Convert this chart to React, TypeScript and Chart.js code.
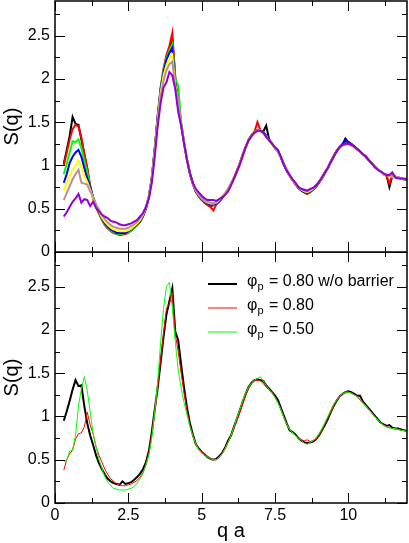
import React, { useEffect, useRef } from 'react';
import { Chart, registerables } from 'chart.js';

Chart.register(...registerables);

// q grid (q a)
const Q = [
  0.3, 0.4, 0.5, 0.6, 0.7, 0.8, 0.9, 1.0, 1.1, 1.2,
  1.3, 1.4, 1.5, 1.6, 1.7, 1.8, 1.9, 2.0, 2.1, 2.2,
  2.3, 2.4, 2.5, 2.6, 2.7, 2.8, 2.9, 3.0, 3.1, 3.2,
  3.3, 3.4, 3.5, 3.6, 3.7, 3.8, 3.9, 4.0, 4.1, 4.2,
  4.3, 4.4, 4.5, 4.6, 4.7, 4.8, 4.9, 5.0, 5.1, 5.2,
  5.3, 5.4, 5.5, 5.6, 5.7, 5.8, 5.9, 6.0, 6.1, 6.2,
  6.3, 6.4, 6.5, 6.6, 6.7, 6.8, 6.9, 7.0, 7.1, 7.2,
  7.3, 7.4, 7.5, 7.6, 7.7, 7.8, 7.9, 8.0, 8.1, 8.2,
  8.3, 8.4, 8.5, 8.6, 8.7, 8.8, 8.9, 9.0, 9.1, 9.2,
  9.3, 9.4, 9.5, 9.6, 9.7, 9.8, 9.9, 10.0, 10.1, 10.2,
  10.3, 10.4, 10.5, 10.6, 10.7, 10.8, 10.9, 11.0, 11.1, 11.2,
  11.3, 11.4, 11.5, 11.6, 11.7, 11.8, 11.9, 12.0,
];

// ---- top panel ----
const TOP_BLACK = [
  1.02, 1.18, 1.34, 1.56, 1.48, 1.47, 1.30, 1.12, 0.96, 0.75,
  0.62, 0.52, 0.45, 0.38, 0.32, 0.28, 0.25, 0.22, 0.21, 0.20,
  0.21, 0.21, 0.23, 0.25, 0.28, 0.31, 0.35, 0.41, 0.50, 0.63,
  0.85, 1.18, 1.55, 1.88, 2.08, 2.25, 2.35, 2.46, 2.02, 1.70,
  1.48, 1.27, 1.07, 0.91, 0.79, 0.70, 0.65, 0.61, 0.57, 0.55,
  0.53, 0.54, 0.56, 0.59, 0.63, 0.67, 0.72, 0.78, 0.85, 0.93,
  1.02, 1.12, 1.21, 1.29, 1.35, 1.38, 1.41, 1.40, 1.39, 1.46,
  1.30, 1.25, 1.20, 1.16, 1.09, 1.01, 0.94, 0.88, 0.83, 0.78,
  0.74, 0.71, 0.69, 0.68, 0.70, 0.72, 0.76, 0.80, 0.85, 0.91,
  0.97, 1.04, 1.11, 1.17, 1.21, 1.24, 1.31, 1.27, 1.25, 1.22,
  1.19, 1.16, 1.13, 1.10, 1.06, 1.02, 0.99, 0.96, 0.93, 0.90,
  0.89, 0.75, 0.88, 0.87, 0.86, 0.85, 0.84, 0.83,
];
const TOP_RED = [
  1.00, 1.15, 1.30, 1.42, 1.47, 1.45, 1.32, 1.14, 0.97, 0.76,
  0.62, 0.52, 0.44, 0.37, 0.31, 0.27, 0.24, 0.22, 0.21, 0.20,
  0.20, 0.21, 0.22, 0.25, 0.28, 0.31, 0.36, 0.42, 0.51, 0.64,
  0.86, 1.20, 1.58, 1.90, 2.12, 2.28, 2.38, 2.53, 2.00, 1.68,
  1.47, 1.26, 1.06, 0.90, 0.78, 0.70, 0.64, 0.60, 0.57, 0.54,
  0.52, 0.48, 0.55, 0.58, 0.62, 0.67, 0.72, 0.79, 0.86, 0.94,
  1.03, 1.13, 1.22, 1.30, 1.35, 1.39, 1.50, 1.41, 1.38, 1.34,
  1.29, 1.25, 1.21, 1.17, 1.10, 1.02, 0.95, 0.88, 0.83, 0.78,
  0.74, 0.71, 0.69, 0.67, 0.69, 0.72, 0.75, 0.80, 0.85, 0.91,
  0.97, 1.04, 1.11, 1.17, 1.21, 1.24, 1.26, 1.27, 1.25, 1.22,
  1.19, 1.16, 1.13, 1.10, 1.06, 1.03, 0.99, 0.96, 0.93, 0.90,
  0.88, 0.79, 0.89, 0.87, 0.86, 0.85, 0.84, 0.83,
];
const TOP_GREEN = [
  0.90, 1.02, 1.15, 1.28, 1.27, 1.30, 1.20, 1.05, 0.92, 0.75,
  0.62, 0.53, 0.45, 0.38, 0.32, 0.28, 0.25, 0.23, 0.21, 0.21,
  0.21, 0.22, 0.23, 0.25, 0.28, 0.32, 0.36, 0.42, 0.51, 0.64,
  0.86, 1.19, 1.56, 1.89, 2.10, 2.24, 2.33, 2.40, 2.00, 1.92,
  1.50, 1.26, 1.07, 0.91, 0.79, 0.71, 0.65, 0.61, 0.58, 0.56,
  0.55, 0.54, 0.56, 0.59, 0.63, 0.68, 0.73, 0.79, 0.86, 0.93,
  1.02, 1.12, 1.21, 1.29, 1.35, 1.39, 1.41, 1.41, 1.38, 1.34,
  1.30, 1.25, 1.20, 1.16, 1.10, 1.02, 0.94, 0.88, 0.83, 0.79,
  0.74, 0.71, 0.69, 0.68, 0.70, 0.73, 0.76, 0.81, 0.86, 0.92,
  0.97, 1.04, 1.10, 1.16, 1.21, 1.23, 1.25, 1.26, 1.24, 1.22,
  1.19, 1.16, 1.13, 1.10, 1.06, 1.02, 0.99, 0.96, 0.93, 0.90,
  0.89, 0.88, 0.88, 0.87, 0.86, 0.85, 0.84, 0.84,
];
const TOP_BLUE = [
  0.80, 0.90, 1.03, 1.10, 1.15, 1.18, 1.10, 0.97, 0.85, 0.76,
  0.63, 0.54, 0.46, 0.39, 0.33, 0.29, 0.26, 0.24, 0.22, 0.22,
  0.22, 0.22, 0.24, 0.26, 0.29, 0.32, 0.36, 0.42, 0.51, 0.64,
  0.85, 1.18, 1.55, 1.87, 2.08, 2.22, 2.30, 2.36, 1.95, 1.75,
  1.48, 1.26, 1.07, 0.91, 0.79, 0.70, 0.65, 0.61, 0.58, 0.56,
  0.55, 0.55, 0.56, 0.59, 0.63, 0.67, 0.72, 0.78, 0.85, 0.93,
  1.02, 1.12, 1.21, 1.29, 1.34, 1.38, 1.40, 1.40, 1.38, 1.35,
  1.30, 1.25, 1.20, 1.17, 1.10, 1.01, 0.94, 0.88, 0.83, 0.79,
  0.74, 0.71, 0.69, 0.68, 0.70, 0.73, 0.76, 0.81, 0.86, 0.92,
  0.97, 1.04, 1.10, 1.16, 1.21, 1.25, 1.29, 1.27, 1.24, 1.22,
  1.19, 1.16, 1.13, 1.10, 1.06, 1.02, 0.99, 0.96, 0.93, 0.90,
  0.89, 0.88, 0.88, 0.87, 0.86, 0.85, 0.84, 0.84,
];
const TOP_YELLOW = [
  0.71, 0.80, 0.88, 0.95, 1.00, 1.06, 0.98, 0.88, 0.81, 0.72,
  0.62, 0.54, 0.47, 0.40, 0.35, 0.31, 0.28, 0.26, 0.25, 0.24,
  0.24, 0.24, 0.25, 0.27, 0.30, 0.33, 0.37, 0.43, 0.52, 0.64,
  0.84, 1.16, 1.52, 1.84, 2.04, 2.16, 2.24, 2.28, 1.93, 1.74,
  1.48, 1.26, 1.07, 0.91, 0.79, 0.71, 0.66, 0.62, 0.59, 0.57,
  0.56, 0.56, 0.57, 0.60, 0.64, 0.68, 0.73, 0.79, 0.86, 0.93,
  1.02, 1.12, 1.21, 1.29, 1.34, 1.38, 1.40, 1.40, 1.37, 1.34,
  1.28, 1.24, 1.21, 1.16, 1.10, 1.02, 0.95, 0.88, 0.83, 0.79,
  0.75, 0.72, 0.70, 0.69, 0.71, 0.73, 0.77, 0.81, 0.86, 0.92,
  0.97, 1.04, 1.10, 1.16, 1.20, 1.23, 1.24, 1.24, 1.23, 1.21,
  1.18, 1.16, 1.13, 1.09, 1.06, 1.02, 0.99, 0.96, 0.93, 0.90,
  0.89, 0.88, 0.87, 0.87, 0.86, 0.85, 0.84, 0.84,
];
const TOP_BROWN = [
  0.60, 0.68, 0.76, 0.84, 0.90, 0.95, 0.80, 0.79, 0.78, 0.70,
  0.64, 0.55, 0.49, 0.43, 0.38, 0.34, 0.31, 0.29, 0.28, 0.27,
  0.27, 0.27, 0.28, 0.30, 0.32, 0.35, 0.39, 0.44, 0.52, 0.63,
  0.83, 1.14, 1.50, 1.80, 1.98, 2.10, 2.17, 2.20, 1.90, 1.76,
  1.48, 1.26, 1.07, 0.91, 0.79, 0.71, 0.66, 0.62, 0.59, 0.58,
  0.57, 0.56, 0.58, 0.61, 0.64, 0.68, 0.73, 0.79, 0.86, 0.93,
  1.02, 1.12, 1.21, 1.29, 1.34, 1.38, 1.40, 1.40, 1.37, 1.33,
  1.29, 1.25, 1.20, 1.16, 1.10, 1.02, 0.95, 0.89, 0.83, 0.79,
  0.75, 0.72, 0.71, 0.70, 0.72, 0.74, 0.77, 0.81, 0.86, 0.92,
  0.97, 1.04, 1.10, 1.16, 1.20, 1.23, 1.24, 1.25, 1.23, 1.21,
  1.18, 1.16, 1.13, 1.09, 1.06, 1.02, 0.99, 0.96, 0.93, 0.90,
  0.89, 0.88, 0.88, 0.87, 0.86, 0.85, 0.84, 0.84,
];
const TOP_VIOLET = [
  0.41, 0.46, 0.52, 0.58, 0.62, 0.67, 0.57, 0.61, 0.60, 0.53,
  0.58, 0.51, 0.47, 0.43, 0.41, 0.39, 0.36, 0.35, 0.34, 0.32,
  0.31, 0.31, 0.32, 0.33, 0.35, 0.37, 0.41, 0.45, 0.52, 0.62,
  0.80, 1.10, 1.45, 1.72, 1.90, 1.96, 2.08, 2.04, 1.88, 1.62,
  1.46, 1.25, 1.06, 0.91, 0.80, 0.73, 0.69, 0.65, 0.62, 0.60,
  0.60, 0.60, 0.59, 0.61, 0.63, 0.66, 0.70, 0.77, 0.85, 0.93,
  1.01, 1.11, 1.21, 1.29, 1.34, 1.38, 1.40, 1.40, 1.38, 1.33,
  1.29, 1.25, 1.21, 1.18, 1.10, 1.01, 0.94, 0.89, 0.84, 0.80,
  0.75, 0.73, 0.72, 0.71, 0.73, 0.74, 0.77, 0.81, 0.86, 0.92,
  0.97, 1.04, 1.10, 1.16, 1.21, 1.24, 1.25, 1.25, 1.24, 1.22,
  1.19, 1.16, 1.13, 1.10, 1.06, 1.02, 0.98, 0.95, 0.93, 0.91,
  0.89, 0.89, 0.92, 0.86, 0.85, 0.85, 0.85, 0.84,
];

// ---- bottom panel ----
const BOT_BLACK = [
  0.95, 1.06, 1.18, 1.31, 1.42, 1.35, 1.36, 1.12, 0.92, 0.78,
  0.67, 0.55, 0.46, 0.39, 0.33, 0.28, 0.25, 0.23, 0.22, 0.21,
  0.25, 0.22, 0.23, 0.24, 0.27, 0.30, 0.34, 0.39, 0.47, 0.60,
  0.82, 1.08, 1.33, 1.62, 1.92, 2.18, 2.33, 2.48, 1.98, 1.88,
  1.60, 1.33, 1.10, 0.92, 0.79, 0.68, 0.63, 0.59, 0.56, 0.53,
  0.51, 0.50, 0.51, 0.54, 0.58, 0.64, 0.72, 0.78, 0.88, 0.97,
  1.07, 1.17, 1.26, 1.34, 1.39, 1.42, 1.43, 1.42, 1.41, 1.36,
  1.32, 1.28, 1.24, 1.19, 1.10, 1.01, 0.92, 0.84, 0.82, 0.79,
  0.75, 0.72, 0.70, 0.69, 0.70, 0.71, 0.74, 0.78, 0.84, 0.90,
  0.97, 1.05, 1.12, 1.18, 1.23, 1.26, 1.28, 1.29, 1.28, 1.26,
  1.24, 1.24, 1.17, 1.13, 1.09, 1.05, 1.01, 0.97, 0.93, 0.91,
  0.89, 0.90, 0.87, 0.86, 0.86, 0.85, 0.84, 0.83,
];
const BOT_RED = [
  0.38, 0.50, 0.57, 0.61, 0.74, 0.80, 0.81, 0.88, 1.05, 0.90,
  0.80, 0.65, 0.55, 0.47, 0.39, 0.33, 0.28, 0.25, 0.22, 0.21,
  0.20, 0.20, 0.21, 0.22, 0.24, 0.26, 0.30, 0.35, 0.44, 0.58,
  0.80, 1.06, 1.33, 1.65, 1.95, 2.25, 2.30, 2.43, 1.95, 1.75,
  1.50, 1.27, 1.07, 0.90, 0.78, 0.69, 0.63, 0.59, 0.56, 0.54,
  0.52, 0.50, 0.50, 0.53, 0.57, 0.63, 0.70, 0.77, 0.86, 0.95,
  1.04, 1.14, 1.24, 1.32, 1.38, 1.41, 1.42, 1.41, 1.38, 1.34,
  1.31, 1.28, 1.22, 1.16, 1.08, 0.99, 0.91, 0.85, 0.81, 0.78,
  0.75, 0.73, 0.72, 0.73, 0.71, 0.72, 0.74, 0.78, 0.84, 0.91,
  0.98, 1.05, 1.12, 1.18, 1.22, 1.26, 1.28, 1.28, 1.27, 1.25,
  1.23, 1.19, 1.15, 1.12, 1.08, 1.04, 1.00, 0.96, 0.93, 0.90,
  0.88, 0.87, 0.86, 0.86, 0.85, 0.84, 0.84, 0.82,
];
const BOT_GREEN = [
  0.48, 0.49, 0.60, 0.61, 0.78, 1.12, 1.32, 1.46, 1.30, 1.05,
  0.80, 0.65, 0.50, 0.40, 0.30, 0.24, 0.20, 0.17, 0.16, 0.15,
  0.15, 0.15, 0.16, 0.17, 0.19, 0.23, 0.28, 0.34, 0.44, 0.55,
  0.75, 1.05, 1.40, 1.85, 2.25, 2.50, 2.55, 2.26, 1.86, 1.54,
  1.33, 1.16, 1.02, 0.88, 0.77, 0.68, 0.62, 0.58, 0.55, 0.53,
  0.51, 0.50, 0.50, 0.53, 0.57, 0.63, 0.70, 0.78, 0.88, 0.98,
  1.08, 1.18, 1.27, 1.34, 1.39, 1.42, 1.44, 1.46, 1.41, 1.36,
  1.31, 1.27, 1.22, 1.16, 1.08, 0.99, 0.91, 0.85, 0.81, 0.78,
  0.75, 0.72, 0.69, 0.68, 0.70, 0.72, 0.75, 0.80, 0.86, 0.93,
  1.00, 1.07, 1.14, 1.19, 1.23, 1.26, 1.28, 1.28, 1.27, 1.25,
  1.23, 1.20, 1.16, 1.12, 1.08, 1.04, 1.00, 0.96, 0.93, 0.90,
  0.88, 0.87, 0.86, 0.86, 0.85, 0.84, 0.84, 0.82,
];

// axis ticks
const X_MAJOR = [0, 2.5, 5, 7.5, 10];
const X_MINOR = [1.25, 3.75, 6.25, 8.75, 11.25];
const Y_MAJOR = [0, 0.5, 1, 1.5, 2, 2.5];
const Y_MINOR = [0.25, 0.75, 1.25, 1.75, 2.25, 2.75];

// legend (bottom panel)
const LEGEND_VALUES = ['0.80 w/o barrier', '0.80', '0.50'];

const FONT = "'Liberation Sans', Arial, Helvetica, sans-serif";

const pts = (arr: number[]) => Q.map((q, i) => ({ x: q, y: arr[i] }));

const frameTicksPlugin = {
  id: 'frameTicks',
  afterDatasetsDraw(chart: any) {
    const { ctx, chartArea: a, scales } = chart;
    const xs = scales.x;
    const ys = scales.y;
    ctx.save();
    ctx.strokeStyle = '#000';
    ctx.lineWidth = 1;
    const seg = (x1: number, y1: number, x2: number, y2: number) => {
      ctx.beginPath();
      ctx.moveTo(x1, y1);
      ctx.lineTo(x2, y2);
      ctx.stroke();
    };
    const xt: [number[], number][] = [[X_MAJOR, 10], [X_MINOR, 5]];
    for (const [vals, len] of xt) {
      for (const v of vals) {
        const px = Math.round(xs.getPixelForValue(v)) + 0.5;
        seg(px, a.bottom, px, a.bottom - len);
        seg(px, a.top, px, a.top + len);
      }
    }
    const yt: [number[], number][] = [[Y_MAJOR, 10], [Y_MINOR, 5]];
    for (const [vals, len] of yt) {
      for (const v of vals) {
        const py = Math.round(ys.getPixelForValue(v)) + 0.5;
        seg(a.left, py, a.left + len, py);
        seg(a.right, py, a.right - len, py);
      }
    }
    ctx.lineWidth = 1.5;
    ctx.strokeRect(a.left, a.top, a.right - a.left, a.bottom - a.top);
    ctx.restore();
  },
};

const legendPlugin = {
  id: 'phiLegend',
  afterDraw(chart: any) {
    const { ctx, chartArea: a } = chart;
    const order = [2, 1, 0]; // black, red, green dataset indices
    ctx.save();
    order.forEach((di, row) => {
      const ds = chart.data.datasets[di];
      const yLine = a.top + 32 + row * 24;
      const x0 = a.left + 153;
      ctx.strokeStyle = ds.borderColor;
      ctx.lineWidth = ds.borderWidth;
      ctx.beginPath();
      ctx.moveTo(x0, yLine);
      ctx.lineTo(x0 + 29, yLine);
      ctx.stroke();
      const yText = yLine - 2;
      let tx = x0 + 39;
      ctx.fillStyle = '#000';
      ctx.textBaseline = 'middle';
      ctx.textAlign = 'left';
      ctx.font = `16px ${FONT}`;
      ctx.fillText('\u03c6', tx, yText);
      tx += ctx.measureText('\u03c6').width;
      ctx.font = `11px ${FONT}`;
      ctx.fillText('p', tx, yText + 5);
      tx += ctx.measureText('p').width + 1;
      ctx.font = `16px ${FONT}`;
      ctx.fillText(' = ' + LEGEND_VALUES[row], tx, yText);
    });
    ctx.restore();
  },
};

const noPad = (s: any) => {
  s.paddingTop = 0;
  s.paddingBottom = 0;
  s.paddingLeft = 0;
  s.paddingRight = 0;
};

function yAxis() {
  return {
    type: 'linear' as const,
    position: 'left' as const,
    min: 0,
    max: 2.9,
    grid: { display: false, drawTicks: false },
    border: { display: false },
    ticks: {
      padding: 5,
      color: '#000',
      font: { family: FONT, size: 16 },
      callback: (v: any) => String(v),
    },
    afterBuildTicks: (s: any) => {
      s.ticks = Y_MAJOR.map((v) => ({ value: v }));
    },
    afterFit: (s: any) => {
      s.width = 55;
      noPad(s);
    },
    title: {
      display: true,
      text: 'S(q)',
      color: '#000',
      font: { family: FONT, size: 20 },
      padding: 0,
    },
  };
}

export default function App() {
  const topRef = useRef<HTMLCanvasElement>(null);
  const botRef = useRef<HTMLCanvasElement>(null);

  useEffect(() => {
    const line = (data: number[], color: string, width: number, order: number) => ({
      data: pts(data),
      borderColor: color,
      backgroundColor: color,
      borderWidth: width,
      pointRadius: 0,
      tension: 0,
      fill: false,
      order,
    });

    const top = new Chart(topRef.current!, {
      type: 'line',
      data: {
        datasets: [
          line(TOP_VIOLET, '#9400d3', 2, 0),
          line(TOP_BROWN, '#bc8f8f', 2, 1),
          line(TOP_YELLOW, '#ffff00', 2, 2),
          line(TOP_BLUE, '#0000ff', 2, 3),
          line(TOP_GREEN, '#00ff00', 2, 4),
          line(TOP_RED, '#ff0000', 2, 5),
          line(TOP_BLACK, '#000000', 2, 6),
        ],
      },
      options: {
        responsive: false,
        animation: false,
        events: [],
        layout: { padding: { left: 0, right: 2, top: 1, bottom: 10 } },
        plugins: { legend: { display: false }, tooltip: { enabled: false } },
        scales: {
          x: { type: 'linear', min: 0, max: 12, display: false },
          y: yAxis() as any,
        },
      },
      plugins: [frameTicksPlugin],
    });

    const bot = new Chart(botRef.current!, {
      type: 'line',
      data: {
        datasets: [
          line(BOT_GREEN, '#00ff00', 1, 0),
          line(BOT_RED, '#ff0000', 1, 1),
          line(BOT_BLACK, '#000000', 2, 2),
        ],
      },
      options: {
        responsive: false,
        animation: false,
        events: [],
        layout: { padding: { left: 0, right: 2, top: 0, bottom: 0 } },
        plugins: { legend: { display: false }, tooltip: { enabled: false } },
        scales: {
          x: {
            type: 'linear',
            position: 'bottom',
            min: 0,
            max: 12,
            grid: { display: false, drawTicks: false },
            border: { display: false },
            ticks: {
              padding: 3,
              color: '#000',
              font: { family: FONT, size: 16 },
              callback: (v: any) => String(v),
            },
            afterBuildTicks: (s: any) => {
              s.ticks = X_MAJOR.map((v) => ({ value: v }));
            },
            afterFit: (s: any) => {
              s.height = 40;
              noPad(s);
            },
            title: {
              display: true,
              text: 'q a',
              color: '#000',
              font: { family: FONT, size: 20 },
              padding: 0,
            },
          } as any,
          y: yAxis() as any,
        },
      },
      plugins: [frameTicksPlugin, legendPlugin],
    });

    return () => {
      top.destroy();
      bot.destroy();
    };
  }, []);

  return (
    <div style={{ position: 'absolute', left: 0, top: 0, width: 409, height: 543, background: '#fff' }}>
      <canvas ref={botRef} width={409} height={291} style={{ position: 'absolute', left: 0, top: 252, display: 'block' }} />
      <canvas ref={topRef} width={409} height={262} style={{ position: 'absolute', left: 0, top: 0, display: 'block' }} />
    </div>
  );
}
